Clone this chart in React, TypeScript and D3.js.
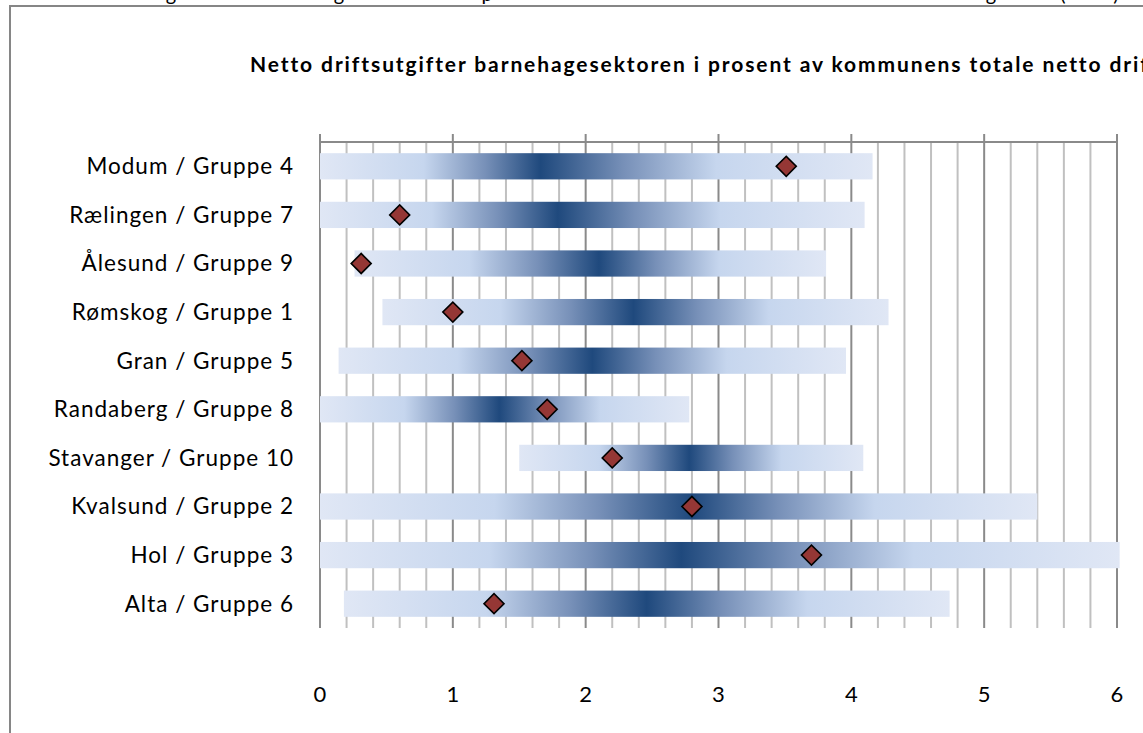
import React from "react";
import * as d3 from "d3";

const categories = [
  "Modum / Gruppe 4",
  "Rælingen / Gruppe 7",
  "Ålesund / Gruppe 9",
  "Rømskog / Gruppe 1",
  "Gran / Gruppe 5",
  "Randaberg / Gruppe 8",
  "Stavanger / Gruppe 10",
  "Kvalsund / Gruppe 2",
  "Hol / Gruppe 3",
  "Alta / Gruppe 6",
];
const minVals = [0, 0, 0.26, 0.47, 0.14, 0, 1.5, 0, 0, 0.18];
const midVals = [1.66, 1.79, 2.1, 2.36, 2.05, 1.35, 2.78, 2.8, 2.72, 2.46];
const maxVals = [4.16, 4.1, 3.81, 4.28, 3.96, 2.78, 4.09, 5.4, 6.02, 4.74];
const kommuneVals = [3.51, 0.6, 0.31, 1.0, 1.52, 1.71, 2.2, 2.8, 3.7, 1.31];
const xTicks = [0, 1, 2, 3, 4, 5, 6];
const title =
  "Netto driftsutgifter barnehagesektoren  i prosent av kommunens totale netto driftsutgifter (%)";
const topFragments = [
  { t: "g", x: 171 },
  { t: "g", x: 339 },
  { t: "p", x: 487 },
  { t: "g", x: 991 },
  { t: "(", x: 1063 },
  { t: ")", x: 1116 },
];

const gradStops = [
  { o: 0, c: "#e0e7f5" },
  { o: 0.47, c: "#c6d6ee" },
  { o: 0.75, c: "#7790b8" },
  { o: 1, c: "#1f497d" },
];

export default function App() {
  const W = 1143;
  const H = 733;
  const x = d3.scaleLinear().domain([0, 6]).range([320, 1117]);
  const y = d3
    .scaleBand<string>()
    .domain(categories)
    .range([142, 628])
    .paddingInner(0.46)
    .paddingOuter(0.23);
  const bw = y.bandwidth();
  const minor = d3.range(0, 6.0001, 0.2).map((v) => Math.round(v * 10) / 10);
  const diamond = d3.symbol(d3.symbolSquare, 200)()!;
  const font = "Lato, 'Open Sans', sans-serif";

  return (
    <div style={{ position: "fixed", left: 0, top: 0 }}>
      <svg width={W} height={H} style={{ display: "block", background: "#fff" }}>
        <defs>
          {categories.map((c, i) => {
            const f = (midVals[i] - minVals[i]) / (maxVals[i] - minVals[i]);
            const left = gradStops.map((s) => ({ o: s.o * f, c: s.c }));
            const right = gradStops
              .slice(0, 3)
              .reverse()
              .map((s) => ({ o: f + (1 - s.o) * (1 - f), c: s.c }));
            return (
              <linearGradient key={c} id={`g${i}`} x1="0" x2="1" y1="0" y2="0">
                {[...left, ...right].map((s, k) => (
                  <stop key={k} offset={s.o} stopColor={s.c} />
                ))}
              </linearGradient>
            );
          })}
        </defs>

        {topFragments.map((f, i) => (
          <text key={i} x={f.x} y={1} fontFamily={font} fontSize={20} textAnchor="middle" fill="#000">
            {f.t}
          </text>
        ))}

        <rect x={10} y={6} width={1300} height={900} fill="none" stroke="#868686" strokeWidth={2} />

        <text
          x={250}
          y={72}
          fontFamily={font}
          fontSize={21}
          fontWeight="bold"
          letterSpacing={1.9}
          fill="#000"
        >
          {title}
        </text>

        {/* gridlines */}
        {minor.map((v, i) => {
          const major = Math.abs(v - Math.round(v)) < 1e-6;
          return (
            <line
              key={i}
              x1={x(v)}
              x2={x(v)}
              y1={major ? 134 : 142}
              y2={628}
              stroke={major ? "#8a8a8a" : "#c0c0c0"}
              strokeWidth={2}
            />
          );
        })}
        <line x1={x(0)} x2={x(6)} y1={142} y2={142} stroke="#8a8a8a" strokeWidth={2} />

        {/* bars */}
        {categories.map((c, i) => (
          <rect
            key={c}
            x={x(minVals[i])}
            y={y(c)!}
            width={x(maxVals[i]) - x(minVals[i])}
            height={bw}
            fill={`url(#g${i})`}
          />
        ))}

        {/* diamonds */}
        {categories.map((c, i) => (
          <path
            key={c}
            d={diamond}
            transform={`translate(${x(kommuneVals[i])},${y(c)! + bw / 2}) rotate(45)`}
            fill="#953735"
            stroke="#000"
            strokeWidth={1.6}
          />
        ))}

        {/* y labels */}
        {categories.map((c) => (
          <text
            key={c}
            x={294}
            y={y(c)! + bw / 2}
            dy="0.35em"
            textAnchor="end"
            fontFamily={font}
            fontSize={22.5}
            letterSpacing={1}
            fill="#000"
          >
            {c}
          </text>
        ))}

        {/* x labels */}
        {xTicks.map((t) => (
          <text key={t} x={x(t)} y={694} dy="0.35em" textAnchor="middle" fontFamily={font} fontSize={22} fill="#000">
            {t}
          </text>
        ))}
      </svg>
    </div>
  );
}
